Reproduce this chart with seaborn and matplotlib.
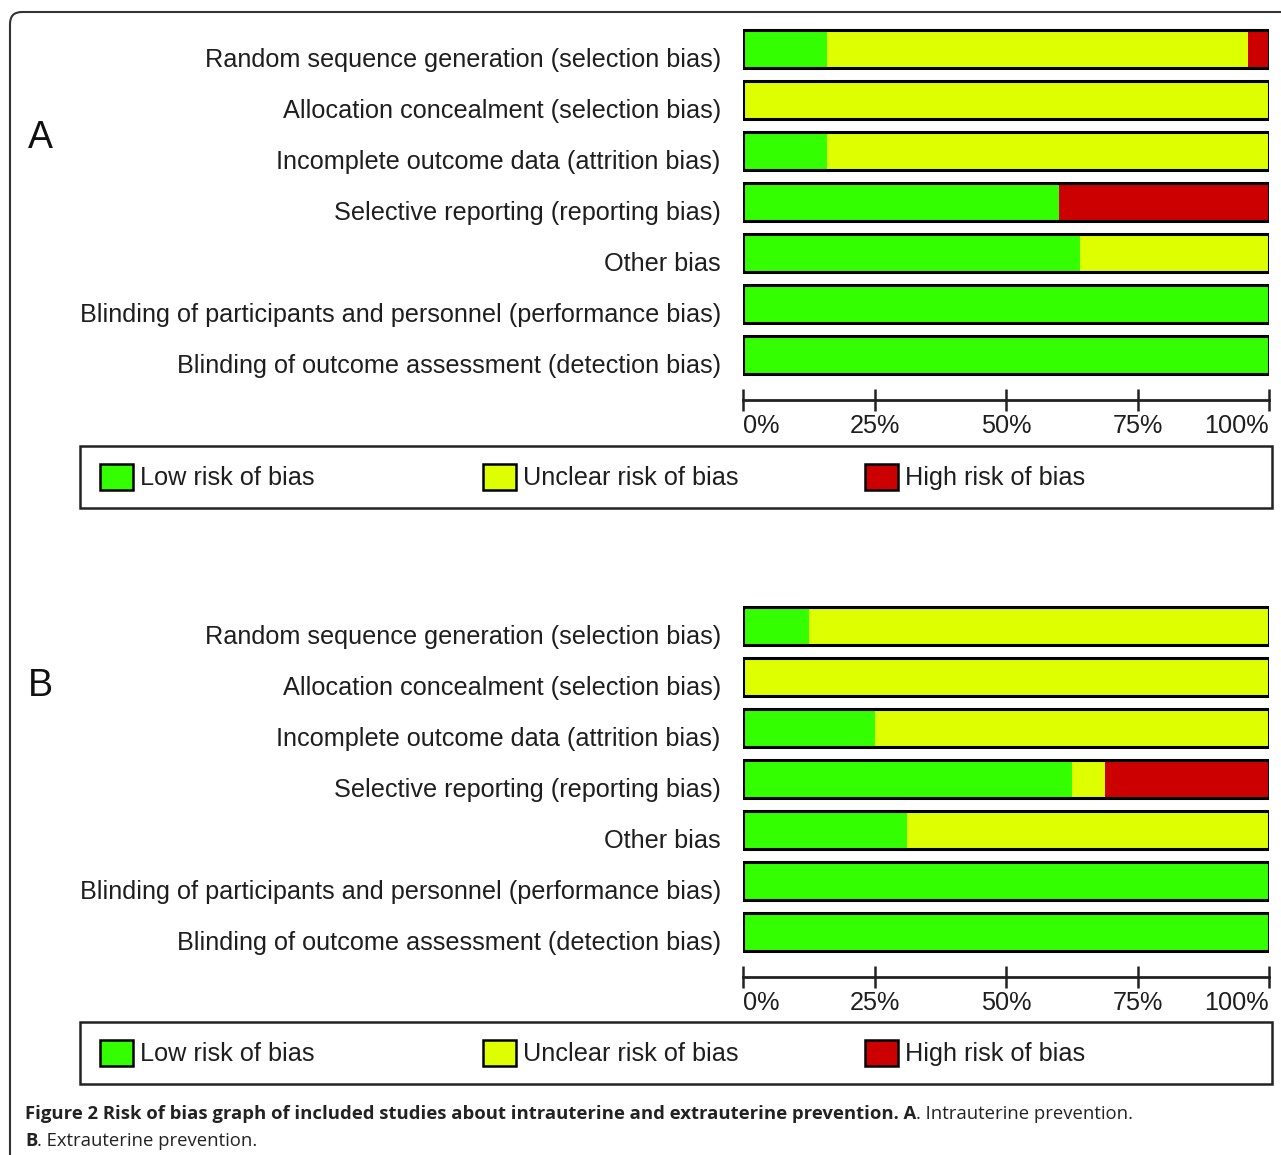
import matplotlib
matplotlib.use("Agg")
import matplotlib.pyplot as plt
from matplotlib.patches import Rectangle, FancyBboxPatch, Patch
from matplotlib.transforms import ScaledTranslation
import seaborn as sns

# Risk-of-bias domains (rows, top to bottom)
domains = [
    "Random sequence generation (selection bias)",
    "Allocation concealment (selection bias)",
    "Incomplete outcome data (attrition bias)",
    "Selective reporting (reporting bias)",
    "Other bias",
    "Blinding of participants and personnel (performance bias)",
    "Blinding of outcome assessment (detection bias)",
]

# Panel A: intrauterine prevention (% of studies)
a_low = [16, 0, 16, 60, 64, 100, 100]
a_unclear = [80, 100, 84, 0, 36, 0, 0]
a_high = [4, 0, 0, 40, 0, 0, 0]

# Panel B: extrauterine prevention (% of studies)
b_low = [12.5, 0, 25, 62.5, 31.25, 100, 100]
b_unclear = [87.5, 100, 75, 6.25, 68.75, 0, 0]
b_high = [0, 0, 0, 31.25, 0, 0, 0]

tick_values = [0, 25, 50, 75, 100]
tick_labels = ["0%", "25%", "50%", "75%", "100%"]
legend_labels = ["Low risk of bias", "Unclear risk of bias", "High risk of bias"]

GREEN = "#33ff00"
YELLOW = "#ddff00"
RED = "#cc0000"
TEXT = "#1e1e1e"
FS = 18.2

sns.set_style("white")
plt.rcParams["font.family"] = ["Liberation Sans", "DejaVu Sans"]

W, H = 1281, 1155
fig = plt.figure(figsize=(W / 100, H / 100), dpi=100)


def fx(px):
    return px / W


def fy(py):
    return 1 - py / H


def draw_panel(top, bottom, low, unclear, high):
    ax = fig.add_axes([fx(743), fy(bottom), (1269 - 743) / W, (bottom - top) / H])
    total = [l + u + h for l, u, h in zip(low, unclear, high)]
    low_unclear = [l + u for l, u in zip(low, unclear)]
    common = dict(y=domains, orient="h", width=0.75, saturation=1,
                  errorbar=None, ax=ax)
    sns.barplot(x=total, color=RED, linewidth=0, **common)
    sns.barplot(x=low_unclear, color=YELLOW, linewidth=0, **common)
    sns.barplot(x=low, color=GREEN, linewidth=0, **common)
    sns.barplot(x=total, color="black", fill=False, linewidth=2.2, **common)

    ax.set_xlim(0, 100)
    ax.set_ylim(6.88, -0.5)
    ax.set_xlabel("")
    ax.set_ylabel("")
    for side in ("left", "top", "right"):
        ax.spines[side].set_visible(False)
    ax.spines["bottom"].set_linewidth(2)
    ax.spines["bottom"].set_color("#222222")
    ax.set_xticks(tick_values)
    ax.set_xticklabels(tick_labels, fontsize=FS, color=TEXT)
    labels = ax.get_xticklabels()
    labels[0].set_ha("left")
    labels[-1].set_ha("right")
    ax.tick_params(axis="x", bottom=True, direction="inout", length=16, width=1.8,
                   color="#222222", pad=2)
    ax.tick_params(axis="y", left=False, length=0, pad=16, labelsize=FS,
                   labelcolor=TEXT)
    shift = ScaledTranslation(0, -8 / 100, fig.dpi_scale_trans)
    for lab in ax.get_yticklabels():
        lab.set_transform(lab.get_transform() + shift)
    return ax


def draw_legend(top, bottom):
    fig.add_artist(Rectangle((fx(80), fy(bottom)), (1272 - 80) / W,
                             (bottom - top) / H, transform=fig.transFigure,
                             facecolor="white", edgecolor="#222222",
                             linewidth=1.8))
    ymid = fy((top + bottom) / 2)
    for x0, lab, col in zip([100, 483, 865], legend_labels, [GREEN, YELLOW, RED]):
        fig.legend(handles=[Patch(facecolor=col, edgecolor="black", linewidth=1.8,
                                  label=lab)],
                   loc="center left", bbox_to_anchor=(fx(x0), ymid),
                   frameon=False, borderpad=0, borderaxespad=0,
                   handlelength=1.3, handleheight=1.25, handletextpad=0.28,
                   prop={"size": FS}, labelcolor=TEXT)


draw_panel(23.5, 400, a_low, a_unclear, a_high)
draw_panel(600.5, 977, b_low, b_unclear, b_high)
draw_legend(446, 508)
draw_legend(1022, 1084)

fig.text(fx(28), fy(138), "A", fontsize=27, color="#111111", va="center", ha="left")
fig.text(fx(28), fy(686), "B", fontsize=27, color="#111111", va="center", ha="left")

# Rounded outer frame, open to the right and bottom
fig.add_artist(FancyBboxPatch((10 / 100, -0.5), (W + 40) / 100, (H - 12) / 100 + 0.5,
                              boxstyle="round,pad=0,rounding_size=0.12",
                              transform=fig.dpi_scale_trans, facecolor="none",
                              edgecolor="#333333", linewidth=1.5))

# Caption with bold and regular runs
cap_font = ["Open Sans", "DejaVu Sans"]
renderer = fig.canvas.get_renderer()


def caption_line(y, runs):
    x = fx(25)
    for txt, weight in runs:
        t = fig.text(x, fy(y), txt, fontsize=13.3, family=cap_font,
                     fontweight=weight, color="#222222", va="center", ha="left")
        bb = t.get_window_extent(renderer=renderer)
        x += bb.width / W


caption_line(1114, [("Figure 2 Risk of bias graph of included studies about intrauterine "
                     "and extrauterine prevention. A", "bold"),
                    (". Intrauterine prevention.", "normal")])
caption_line(1141, [("B", "bold"), (". Extrauterine prevention.", "normal")])

fig.savefig("out.png", dpi=100, facecolor="white")
